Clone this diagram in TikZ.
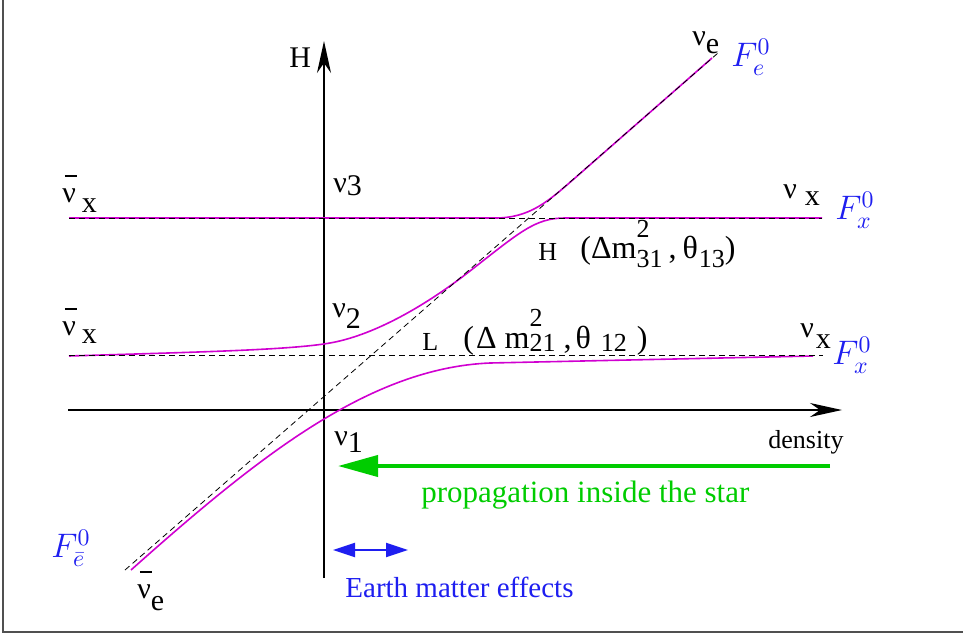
\documentclass[tikz,border=0pt]{standalone}
\usepackage{fix-cm}
\usepackage{fontspec}
\setmainfont{Liberation Serif}
\usetikzlibrary{arrows.meta,positioning}
\definecolor{framegray}{HTML}{505050}
\definecolor{eigen}{HTML}{D000D0}
\definecolor{fluxblue}{HTML}{1E1EF0}
\definecolor{stargreen}{HTML}{00CC00}
\newcommand\lowr[2][3pt]{\raisebox{-#1}{#2}}
\newcommand\digs{\fontsize{13}{13}\selectfont}
\newcommand\nubar{\rlap{\hspace{0.08em}\raisebox{0.85em}{\rule{0.4em}{0.04em}}}ν}
\newcommand\supsub[4]{\rlap{\raisebox{#3}{\digs #1}}\raisebox{-#4}{\digs #2}}
\tikzset{
  axis/.style={-{Stealth[length=16pt,width=7pt,inset=5pt]}, line width=0.8pt, draw=black},
  diab/.style={draw=black, line width=0.4pt, dash pattern=on 3pt off 2pt},
  eig/.style={draw=eigen, line width=0.8pt},
  nulab/.style={font={\fontsize{15}{18}\selectfont}, inner sep=0pt, anchor=base west},
  flab/.style={font={\fontsize{17}{20}\selectfont}, text=fluxblue, inner sep=0pt},
  reslab/.style={font={\fontsize{16}{19}\selectfont}, inner sep=0pt, anchor=base west},
  propagate/.style={-{Triangle[length=20pt,width=10.5pt]}, line width=2pt, draw=stargreen},
  earthrange/.style={{Triangle[length=11pt,width=7pt]}-{Triangle[length=11pt,width=7pt]}, line width=1pt, draw=fluxblue}
}
\begin{document}
\begin{tikzpicture}[x=0.5pt,y=-0.5pt]
  \useasboundingbox (0,0) rectangle (963,637);
  % frame, only left and bottom edges show
  \draw[framegray,line width=0.7pt] (3,0) -- (3,632) -- (963,632);
  % axes
  \coordinate (xfrom) at (68,410);
  \coordinate (xto) at (842,410);
  \coordinate (yfrom) at (324,578);
  \coordinate (yto) at (324,41);
  \draw[axis] (xfrom) -- (xto);
  \draw[axis] (yfrom) -- (yto);
  % matter eigenvalues
  \draw[eig] (69,218) -- (495,218) .. controls (530,218) and (548,201.5) .. (575,178) -- (712,58);
  \draw[eig] (69,356) .. controls (200,352) and (290,350) .. (330,343)
    .. controls (370,336) and (420,310) .. (470,271)
    .. controls (520,232) and (535,218) .. (565,218) -- (822,218);
  \draw[eig] (131,570) .. controls (260,455) and (370,368) .. (490,363) -- (813,356);
  % flavour levels
  \draw[diab] (69,218) -- (822,218);
  \draw[diab] (69,355) -- (823,355);
  \draw[diab] (125,570) -- (718,53);
  % state labels
  \node[nulab] (hax) at (289,67) {H};
  \node[nulab] (nuetop) at (692,46) {ν\lowr[3.5pt]{e}};
  \node[nulab] (nubxtop) at (62,202) {\nubar\hspace{3pt}\lowr[5pt]{x}};
  \node[nulab] (nubxlow) at (62,335) {\nubar\hspace{3pt}\lowr[4pt]{x}};
  \node[nulab] (nuthree) at (333,192) {ν\lowr[1.5pt]{3}};
  \node[nulab] (nutwo) at (332,317) {ν\lowr[5.5pt]{2}};
  \node[nulab] (nuone) at (334,445) {ν\lowr[3.5pt]{1}};
  \node[nulab] (nuxtop) at (783,198) {ν\hspace{4pt}\lowr[3.5pt]{x}};
  \node[nulab] (nuxlow) at (800,337) {ν\hspace{1pt}\lowr[5.5pt]{x}};
  \node[nulab] (nuebar) at (137,598) {\nubar\lowr[6pt]{e}};
  % initial fluxes
  \node[flab] (fe) at (751,57) {$F^0_e$};
  \node[flab] (fxtop) at (855,210) {$F^0_x$};
  \node[flab] (fxlow) at (852,355) {$F^0_x$};
  \node[flab] (febar) at (71,548) {$F^0_{\bar e}$};
  % resonances
  \node[reslab,font={\fontsize{13}{16}\selectfont}] (hres) at (538,260) {H};
  \node[reslab] (hpar) at (580,258)
    {(Δm\supsub{2}{31}{10.5pt}{4.5pt}\hspace{3pt},\hspace{3pt}θ\hspace{0.5pt}\lowr[4.5pt]{\digs 13})};
  \node[reslab,font={\fontsize{13}{16}\selectfont}] (lres) at (422,350) {L};
  \node[reslab] (lpar) at (463,348)
    {(\hspace{1pt}Δ\hspace{4pt}m\supsub{2}{21}{11pt}{1.5pt}\hspace{4pt},\hspace{2pt}θ\hspace{5pt}\lowr[1.5pt]{\digs 12}\hspace{5pt})};
  \node[reslab,font={\fontsize{13}{16}\selectfont}] (dens) at (768,448) {density};
  % propagation and Earth
  \coordinate (propfrom) at (830,466);
  \coordinate (propto) at (338,466);
  \draw[propagate] (propfrom) -- (propto);
  \node[reslab,font={\fontsize{15.5}{18}\selectfont},text=stargreen] (proptxt) at (421,502) {propagation inside the star};
  \coordinate (earthl) at (333,550);
  \coordinate (earthr) at (408,550);
  \draw[earthrange] (earthl) -- (earthr);
  \node[reslab,font={\fontsize{14.5}{17}\selectfont},text=fluxblue] (earthtxt) at (345,597) {Earth matter effects};
\end{tikzpicture}
\end{document}
